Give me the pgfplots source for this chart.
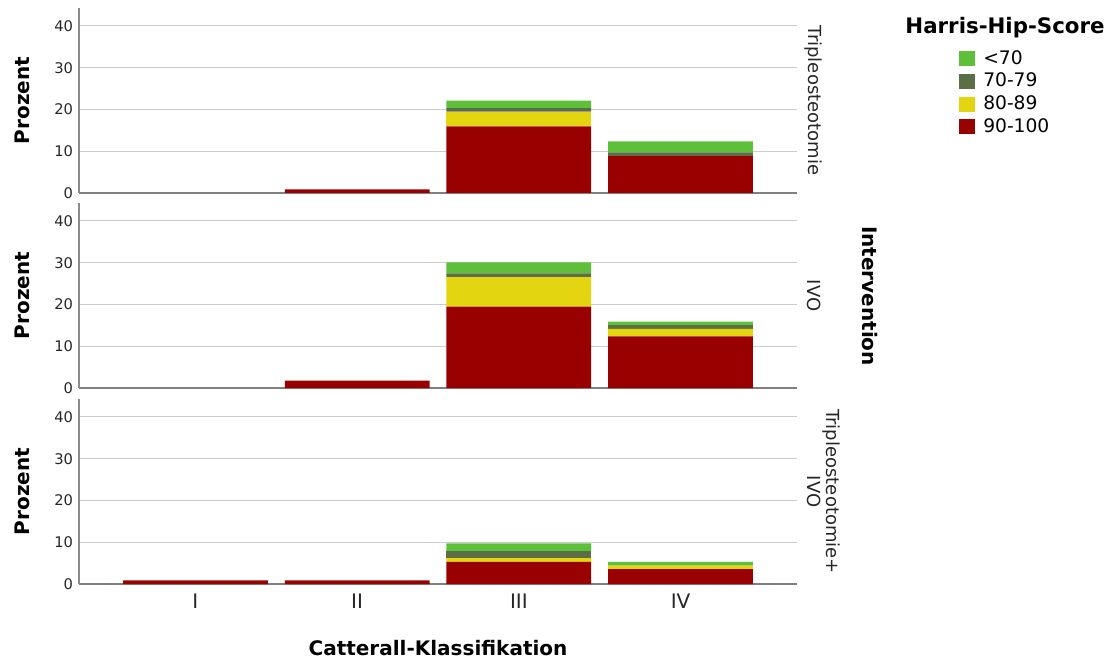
\documentclass[border=0pt]{standalone}
\usepackage{fontspec}
\setmainfont{DejaVu Sans}
\usepackage{pgfplots}
\pgfplotsset{compat=1.18}
\definecolor{cgreen}{RGB}{94,192,58}
\definecolor{cdkgreen}{RGB}{91,110,69}
\definecolor{cyellow}{RGB}{227,214,17}
\definecolor{cred}{RGB}{153,0,0}
\tikzset{facet/.style={rotate=-90, font=\fontsize{13.5}{14.5}\selectfont, anchor=center, align=center, text=black!85}}
\pgfplotsset{
  panel/.style={
    scale only axis, width=538.5pt, height=138.75pt,
    ybar stacked, bar width=0.895, bar shift=0pt,
    xmin=-0.72, xmax=3.72, ymin=0, ymax=44.3,
    xtick={0,1,2,3}, ytick={0,10,20,30,40},
    axis x line*=bottom, axis y line*=left,
    x axis line style={draw=black!50, line width=1.3pt},
    y axis line style={draw=black!45, line width=0.9pt},
    ymajorgrids, grid style={draw=black!20, line width=0.8pt},
    major tick length=0pt,
    clip=false,
    /pgf/number format/assume math mode=true,
    yticklabel style={font=\fontsize{11}{13}\selectfont, text=black!85, xshift=-1pt},
    xticklabel style={font=\fontsize{15}{18}\selectfont, text=black!85, yshift=-4pt},
    ylabel={Prozent},
    ylabel style={font=\bfseries\fontsize{15}{18}\selectfont, at={(axis description cs:-0.079,0.5)}, anchor=center},
    legend image code/.code={\fill[#1] (0pt,-5.6pt) rectangle (12pt,5.6pt);},
  },
}
\begin{document}
\begin{tikzpicture}
\useasboundingbox (-59.25pt,-57.75pt) rectangle (774.75pt,438pt);
% Panel 1: Tripleosteotomie
\begin{axis}[panel, at={(0pt,293.25pt)}, anchor=south west, xticklabels={},
  reverse legend,
  legend style={at={(axis description cs:1.2256,0.784)}, anchor=north west, draw=none, fill=none,
    font=\fontsize{14}{16}\selectfont, row sep=1pt, inner sep=0pt,
    nodes={inner sep=1pt, text height=11pt, text depth=3pt},
    /tikz/every odd column/.append style={column sep=5pt}},
  legend cell align=left]
\addplot[fill=cred, draw=none] coordinates {(0,0) (1,0.88) (2,15.93) (3,8.85)};
\addplot[fill=cyellow, draw=none] coordinates {(0,0) (1,0) (2,3.54) (3,0)};
\addplot[fill=cdkgreen, draw=none] coordinates {(0,0) (1,0) (2,0.88) (3,0.88)};
\addplot[fill=cgreen, draw=none] coordinates {(0,0) (1,0) (2,1.77) (3,2.65)};
\legend{90-100,80-89,70-79,<70}
\node[facet] at (rel axis cs:1.0235,0.5) {Tripleosteotomie};
\end{axis}
% Panel 2: IVO
\begin{axis}[panel, at={(0pt,147pt)}, anchor=south west, xticklabels={}]
\addplot[fill=cred, draw=none] coordinates {(0,0) (1,1.77) (2,19.47) (3,12.39)};
\addplot[fill=cyellow, draw=none] coordinates {(0,0) (1,0) (2,7.08) (3,1.77)};
\addplot[fill=cdkgreen, draw=none] coordinates {(0,0) (1,0) (2,0.88) (3,0.88)};
\addplot[fill=cgreen, draw=none] coordinates {(0,0) (1,0) (2,2.65) (3,0.88)};
\node[facet] at (rel axis cs:1.0235,0.5) {IVO};
\end{axis}
% Panel 3: Tripleosteotomie+IVO
\begin{axis}[panel, at={(0pt,0pt)}, anchor=south west, xticklabels={I,II,III,IV},
  xlabel={Catterall-Klassifikation},
  xlabel style={font=\bfseries\fontsize{15}{18}\selectfont, at={(axis description cs:0.5,-0.346)}, anchor=center}]
\addplot[fill=cred, draw=none] coordinates {(0,0.88) (1,0.88) (2,5.31) (3,3.54)};
\addplot[fill=cyellow, draw=none] coordinates {(0,0) (1,0) (2,0.88) (3,0.88)};
\addplot[fill=cdkgreen, draw=none] coordinates {(0,0) (1,0) (2,1.77) (3,0)};
\addplot[fill=cgreen, draw=none] coordinates {(0,0) (1,0) (2,1.77) (3,0.88)};
\node[facet] at (rel axis cs:1.0375,0.5) {Tripleosteotomie+\\IVO};
\end{axis}
\node[rotate=-90, font=\bfseries\fontsize{15}{18}\selectfont, anchor=center] at (593.25pt,216pt) {Intervention};
\node[font=\bfseries\fontsize{16}{18}\selectfont, anchor=center] at (694.5pt,417pt) {Harris-Hip-Score};
\end{tikzpicture}
\end{document}
